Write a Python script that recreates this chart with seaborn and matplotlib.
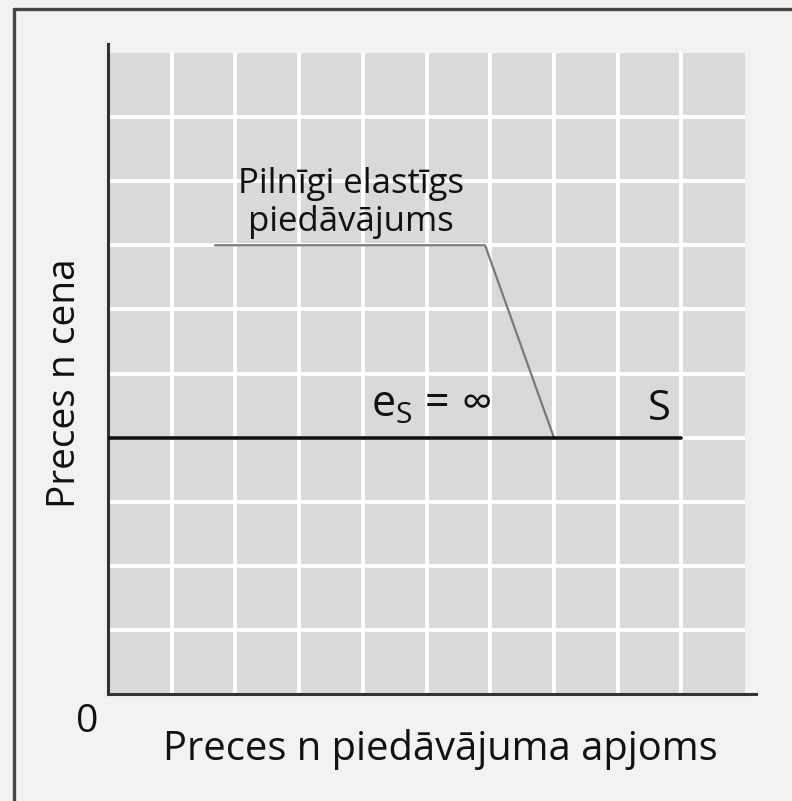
import matplotlib
matplotlib.use("Agg")
import matplotlib.pyplot as plt
import seaborn as sns
import pandas as pd
from matplotlib.patches import Rectangle
from matplotlib.lines import Line2D

# ---- data ----
grid_ticks = list(range(0, 11))
supply_q = [0, 9]
supply_p = [4, 4]
leader_x = [1.68, 5.92, 7.0]
leader_y = [7, 7, 4]
label_title = ["Pilnīgi elastīgs", "piedāvājums"]
elasticity_label = r"$\mathrm{e_S}\;\!=\;\!\infty$"
curve_label = "S"
x_label = "Preces n piedāvājuma apjoms"
y_label = "Preces n cena"
origin_label = "0"

sns.set_theme(style="white")
plt.rcParams["font.family"] = ["Open Sans", "DejaVu Sans"]
plt.rcParams["mathtext.fontset"] = "custom"
plt.rcParams["mathtext.rm"] = "Open Sans"
plt.rcParams["mathtext.it"] = "Open Sans:italic"

W, H = 792, 801
fig = plt.figure(figsize=(W / 100, H / 100), dpi=100)
fig.patch.set_facecolor("#f2f2f2")

ax = fig.add_axes([108 / W, (H - 694) / H, (756 - 108) / W, (694 - 44) / H])
ax.set_facecolor("#f2f2f2")
ax.set_xlim(0, 10 * (756 - 108) / (745 - 108))
ax.set_ylim(0, 10 * (694 - 44) / (694 - 53))

ax.add_patch(Rectangle((0, 0), 10, 10, facecolor="#d9d9d9", edgecolor="none", zorder=0))
for t in grid_ticks[1:-1]:
    ax.plot([t, t], [0, 10], color="white", lw=2.8, zorder=1, solid_capstyle="butt")
    ax.plot([0, 10], [t, t], color="white", lw=2.8, zorder=1, solid_capstyle="butt")

df_s = pd.DataFrame({"q": supply_q, "p": supply_p})
sns.lineplot(data=df_s, x="q", y="p", ax=ax, color="#111111", lw=2.6, zorder=3)
df_l = pd.DataFrame({"x": leader_x, "y": leader_y})
sns.lineplot(data=df_l, x="x", y="y", ax=ax, color="#7a7a7a", lw=1.6, zorder=2,
             sort=False, estimator=None)

ax.text(3.81, 7.96, label_title[0], ha="center", va="center", fontsize=25, color="#111111")
ax.text(3.81, 7.36, label_title[1], ha="center", va="center", fontsize=25, color="#111111")
ax.text(5.07, 4.5, elasticity_label, ha="center", va="center", fontsize=31, color="#111111")
ax.text(8.65, 4.45, curve_label, ha="center", va="center", fontsize=30, color="#111111")

ax.set_xticks([])
ax.set_yticks([])
ax.set_xlabel("")
ax.set_ylabel("")
for s in ["top", "right"]:
    ax.spines[s].set_visible(False)
for s in ["left", "bottom"]:
    ax.spines[s].set_color("#333333")
    ax.spines[s].set_linewidth(2.2)

fig.text(440 / W, 1 - 750 / H, x_label, ha="center", va="center", fontsize=28.7, color="#111111")
fig.text(65 / W, 1 - 383 / H, y_label, ha="center", va="center", rotation=90, fontsize=28, color="#111111")
fig.text(87 / W, 1 - 722 / H, origin_label, ha="center", va="center", fontsize=28, color="#111111")

fig.add_artist(Line2D([14 / W, 14 / W], [0, 1 - 9 / H], color="#444444", lw=2.4))
fig.add_artist(Line2D([14 / W, 1], [1 - 9 / H, 1 - 9 / H], color="#444444", lw=2.4))

fig.savefig("out.png", dpi=100, facecolor=fig.get_facecolor())
